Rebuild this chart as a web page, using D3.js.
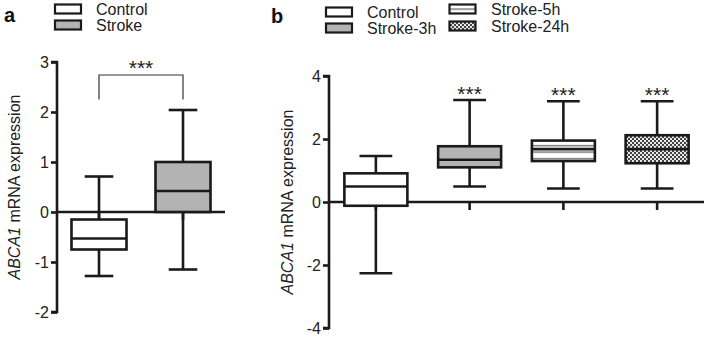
<!DOCTYPE html>
<html>
<head>
<meta charset="utf-8">
<script src="https://cdn.jsdelivr.net/npm/d3@7"></script>
<style>
  body { margin: 0; background: #fff; }
  svg { display: block; font-family: "Liberation Sans", Arial, sans-serif; }
</style>
</head>
<body>
<script>
const width = 708;
const height = 337;

// panel a data (box stats: whisker low, q1, median, q3, whisker high)
const groupsA = ["Control", "Stroke"];
const lowA = [-1.28, -1.15];
const q1A = [-0.75, 0];
const medA = [-0.53, 0.42];
const q3A = [-0.15, 1.0];
const highA = [0.71, 2.04];
const ticksA = [-2, -1, 0, 1, 2, 3];

// panel b data
const groupsB = ["Control", "Stroke-3h", "Stroke-5h", "Stroke-24h"];
const lowB = [-2.26, 0.49, 0.43, 0.43];
const q1B = [-0.12, 1.1, 1.3, 1.23];
const medB = [0.49, 1.34, 1.68, 1.68];
const q3B = [0.91, 1.77, 1.95, 2.12];
const highB = [1.46, 3.24, 3.2, 3.2];
const starsB = ["", "***", "***", "***"];
const ticksB = [-4, -2, 0, 2, 4];

const ink = "#1a1a1a";
const lw = 2.6;
const fs = 16;

var svg = d3.select("body").append("svg")
    .attr("width", width)
    .attr("height", height);

//patterns for fills
var defs = svg.append("defs");
var hp = defs.append("pattern").attr("id", "hlines")
    .attr("patternUnits", "userSpaceOnUse")
    .attr("width", 6).attr("height", 6.5);
hp.append("rect").attr("width", 6).attr("height", 6.5).attr("fill", "#fff");
hp.append("rect").attr("y", 2).attr("width", 6).attr("height", 1.3).attr("fill", "#666");
var cp = defs.append("pattern").attr("id", "checks")
    .attr("patternUnits", "userSpaceOnUse")
    .attr("width", 4).attr("height", 4);
cp.append("rect").attr("width", 4).attr("height", 4).attr("fill", "#444");
cp.append("rect").attr("width", 2).attr("height", 2).attr("fill", "#e8e8e8");
cp.append("rect").attr("x", 2).attr("y", 2).attr("width", 2).attr("height", 2).attr("fill", "#e8e8e8");

const fillsA = ["#fff", "#b3b3b3"];
const fillsB = ["#fff", "#b3b3b3", "url(#hlines)", "url(#checks)"];

function yLabel(g, x, y) {
    var t = g.append("text")
        .attr("transform", "translate(" + x + "," + y + ") rotate(-90)")
        .attr("text-anchor", "middle")
        .attr("font-size", fs)
        .attr("fill", "#222");
    t.append("tspan").attr("font-style", "italic").text("ABCA1");
    t.append("tspan").text(" mRNA expression");
}

function drawPanel(cfg) {
    var g = svg.append("g");
    var x = d3.scaleBand().domain(cfg.groups)
        .range(cfg.xRange)
        .paddingInner(cfg.pad).paddingOuter(cfg.pad / 2);
    var y = d3.scaleLinear().domain(cfg.yDomain).range(cfg.yRange);
    var bw = x.bandwidth();
    var cap = bw * 0.52;

    // y axis
    var yAxis = d3.axisLeft(y).tickValues(cfg.ticks).tickSize(6).tickPadding(2)
        .tickFormat(d => String(d));
    var ya = g.append("g")
        .attr("transform", "translate(" + cfg.xRange[0] + ",0)")
        .call(yAxis);
    ya.select(".domain").attr("stroke", ink).attr("stroke-width", lw)
        .attr("d", "M-6," + y(cfg.yDomain[1]) + "H0V" + y(cfg.yDomain[0]) + "H-6");
    ya.selectAll(".tick line").attr("stroke", ink).attr("stroke-width", lw);
    ya.selectAll(".tick text").attr("font-size", fs).attr("fill", "#222")
        .attr("font-family", "Liberation Sans, Arial, sans-serif");

    // x axis at zero
    var y0 = y(0);
    g.append("line")
        .attr("x1", cfg.xRange[0]).attr("x2", cfg.xRange[1])
        .attr("y1", y0).attr("y2", y0)
        .attr("stroke", ink).attr("stroke-width", lw);
    g.selectAll(".xtick").data(cfg.groups).enter().append("line")
        .attr("x1", d => x(d) + bw / 2).attr("x2", d => x(d) + bw / 2)
        .attr("y1", y0).attr("y2", y0 + 8)
        .attr("stroke", ink).attr("stroke-width", lw);

    var boxes = g.selectAll(".box").data(cfg.groups).enter().append("g");
    //whiskers
    boxes.append("line")
        .attr("x1", d => x(d) + bw / 2).attr("x2", d => x(d) + bw / 2)
        .attr("y1", (d, i) => y(cfg.high[i])).attr("y2", (d, i) => y(cfg.low[i]))
        .attr("stroke", ink).attr("stroke-width", lw);
    boxes.append("line")
        .attr("x1", d => x(d) + bw / 2 - cap / 2).attr("x2", d => x(d) + bw / 2 + cap / 2)
        .attr("y1", (d, i) => y(cfg.high[i])).attr("y2", (d, i) => y(cfg.high[i]))
        .attr("stroke", ink).attr("stroke-width", lw);
    boxes.append("line")
        .attr("x1", d => x(d) + bw / 2 - cap / 2).attr("x2", d => x(d) + bw / 2 + cap / 2)
        .attr("y1", (d, i) => y(cfg.low[i])).attr("y2", (d, i) => y(cfg.low[i]))
        .attr("stroke", ink).attr("stroke-width", lw);
    boxes.append("rect")
        .attr("x", d => x(d)).attr("width", bw)
        .attr("y", (d, i) => y(cfg.q3[i]))
        .attr("height", (d, i) => y(cfg.q1[i]) - y(cfg.q3[i]))
        .attr("fill", (d, i) => cfg.fills[i])
        .attr("stroke", ink).attr("stroke-width", lw);
    boxes.append("line")
        .attr("x1", d => x(d)).attr("x2", d => x(d) + bw)
        .attr("y1", (d, i) => y(cfg.med[i])).attr("y2", (d, i) => y(cfg.med[i]))
        .attr("stroke", ink).attr("stroke-width", lw);

    return { g: g, x: x, y: y, bw: bw };
}

function legendItem(x, y, fill, label, tx) {
    svg.append("rect").attr("x", x).attr("y", y).attr("width", 26).attr("height", 9)
        .attr("fill", fill).attr("stroke", ink).attr("stroke-width", 2.2);
    svg.append("text").attr("x", tx).attr("y", y + 10.5)
        .attr("font-size", fs).attr("fill", "#222").text(label);
}

// panel a
var pa = drawPanel({
    groups: groupsA, xRange: [57, 225], pad: 0.345,
    yDomain: [-2, 3], yRange: [312, 62], ticks: ticksA,
    low: lowA, q1: q1A, med: medA, q3: q3A, high: highA, fills: fillsA
});
// significance bracket
var bx1 = pa.x(groupsA[0]) + pa.bw / 2, bx2 = pa.x(groupsA[1]) + pa.bw / 2;
pa.g.append("path")
    .attr("d", "M" + bx1 + "," + pa.y(2.25) + "V" + pa.y(2.74) + "H" + bx2 + "V" + pa.y(2.25))
    .attr("fill", "none").attr("stroke", "#333").attr("stroke-width", 1.2);
pa.g.append("text").attr("x", (bx1 + bx2) / 2).attr("y", pa.y(2.74))
    .attr("text-anchor", "middle").attr("font-size", 21).attr("fill", "#222").text("***");
yLabel(pa.g, 20, 187);
svg.append("text").attr("x", 4).attr("y", 22).attr("font-size", 20)
    .attr("font-weight", "bold").attr("fill", "#111").text("a");
legendItem(55, 4.5, fillsA[0], groupsA[0], 96);
legendItem(55, 20.5, fillsA[1], groupsA[1], 96);

// panel b
var pb = drawPanel({
    groups: groupsB, xRange: [329, 704], pad: 0.328,
    yDomain: [-4, 4], yRange: [328, 76], ticks: ticksB,
    low: lowB, q1: q1B, med: medB, q3: q3B, high: highB, fills: fillsB
});
pb.g.selectAll(".star").data(groupsB).enter().append("text")
    .attr("x", d => pb.x(d) + pb.bw / 2)
    .attr("y", (d, i) => pb.y(highB[i]) + 1)
    .attr("text-anchor", "middle").attr("font-size", 21).attr("fill", "#222")
    .text((d, i) => starsB[i]);
yLabel(pb.g, 293, 202);
svg.append("text").attr("x", 271).attr("y", 23).attr("font-size", 20)
    .attr("font-weight", "bold").attr("fill", "#111").text("b");
legendItem(326, 7.5, fillsB[0], groupsB[0], 367);
legendItem(326, 23.5, fillsB[1], groupsB[1], 367);
legendItem(449.5, 4.5, fillsB[2], groupsB[2], 491);
legendItem(449.5, 21.5, fillsB[3], groupsB[3], 491);
</script>
</body>
</html>
